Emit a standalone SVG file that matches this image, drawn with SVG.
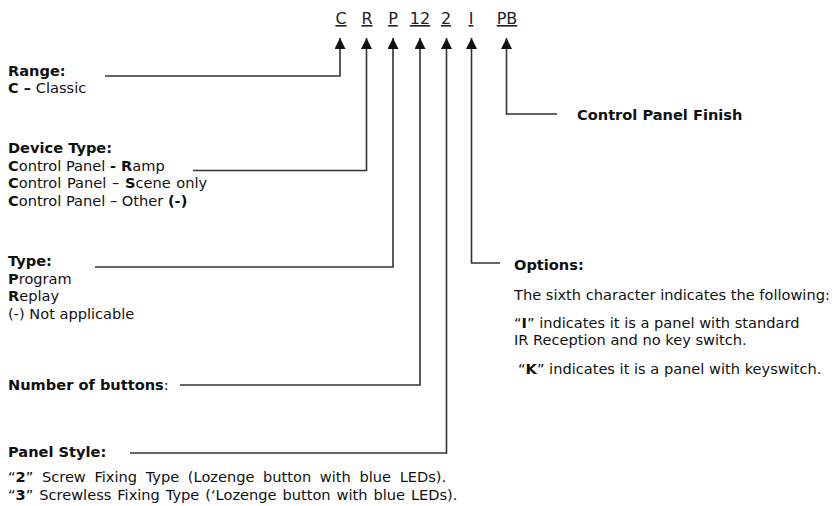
<svg xmlns="http://www.w3.org/2000/svg" width="837" height="506" viewBox="0 0 837 506">
<defs>
<style>
text{font-family:"DejaVu Sans",Verdana,sans-serif;font-size:14.6px;fill:#111}
.b{font-weight:bold}
.code{font-size:16px;text-anchor:middle;text-decoration:underline;fill:#222}
.ln{fill:none;stroke:#333;stroke-width:1.6}
</style>
<marker id="ah" markerWidth="11" markerHeight="11" refX="10" refY="5" orient="auto" markerUnits="userSpaceOnUse" viewBox="0 0 10 10">
<path d="M0,0 L10,5 L0,10 Z" fill="#111"/>
</marker>
</defs>
<rect width="837" height="506" fill="#fff"/>
<g id="code">
<text class="code" x="341" y="24">C</text>
<text class="code" x="367" y="24">R</text>
<text class="code" x="393" y="24">P</text>
<text class="code" x="420" y="24">12</text>
<text class="code" x="446" y="24">2</text>
<text class="code" x="471" y="24">I</text>
<text class="code" x="507" y="24">PB</text>
</g>
<g id="connectors">
<path class="ln" d="M105,76 H340 V38" marker-end="url(#ah)"/>
<path class="ln" d="M193,170.5 H366.5 V38" marker-end="url(#ah)"/>
<path class="ln" d="M95,267 H393 V38" marker-end="url(#ah)"/>
<path class="ln" d="M180,385 H420 V38" marker-end="url(#ah)"/>
<path class="ln" d="M130,453 H446.5 V38" marker-end="url(#ah)"/>
<path class="ln" d="M500,263 H471.5 V38" marker-end="url(#ah)"/>
<path class="ln" d="M557,114 H506.5 V38" marker-end="url(#ah)"/>
</g>
<g id="range">
<text class="b" x="8" y="76">Range:</text>
<text x="8" y="93"><tspan class="b">C –</tspan> Classic</text>
</g>
<g id="device-type">
<text class="b" x="8" y="153">Device Type:</text>
<text x="8" y="171"><tspan class="b">C</tspan>ontrol Panel <tspan class="b">- R</tspan>amp</text>
<text x="8" y="188" word-spacing="1"><tspan class="b">C</tspan>ontrol Panel – <tspan class="b">S</tspan>cene only</text>
<text x="8" y="206"><tspan class="b">C</tspan>ontrol Panel – Other <tspan class="b">(-)</tspan></text>
</g>
<g id="type">
<text class="b" x="8" y="266">Type:</text>
<text x="8" y="284"><tspan class="b">P</tspan>rogram</text>
<text x="8" y="301"><tspan class="b">R</tspan>eplay</text>
<text x="8" y="319">(-) Not applicable</text>
</g>
<g id="number-of-buttons">
<text x="8" y="390"><tspan class="b">Number of buttons</tspan>:</text>
</g>
<g id="panel-style">
<text class="b" x="8" y="457">Panel Style:</text>
<text x="8" y="482" word-spacing="4">“<tspan class="b">2</tspan>” Screw Fixing Type (Lozenge button with blue LEDs).</text>
<text x="8" y="500" word-spacing="1.3">“<tspan class="b">3</tspan>” Screwless Fixing Type (‘Lozenge button with blue LEDs).</text>
</g>
<g id="options">
<text class="b" x="514" y="270">Options:</text>
<text x="514" y="300">The sixth character indicates the following:</text>
<text x="514" y="328">“<tspan class="b">I</tspan>” indicates it is a panel with standard</text>
<text x="514" y="345">IR Reception and no key switch.</text>
<text x="518" y="374">“<tspan class="b">K</tspan>” indicates it is a panel with keyswitch.</text>
</g>
<g id="finish">
<text class="b" x="577" y="120">Control Panel Finish</text>
</g>
</svg>
